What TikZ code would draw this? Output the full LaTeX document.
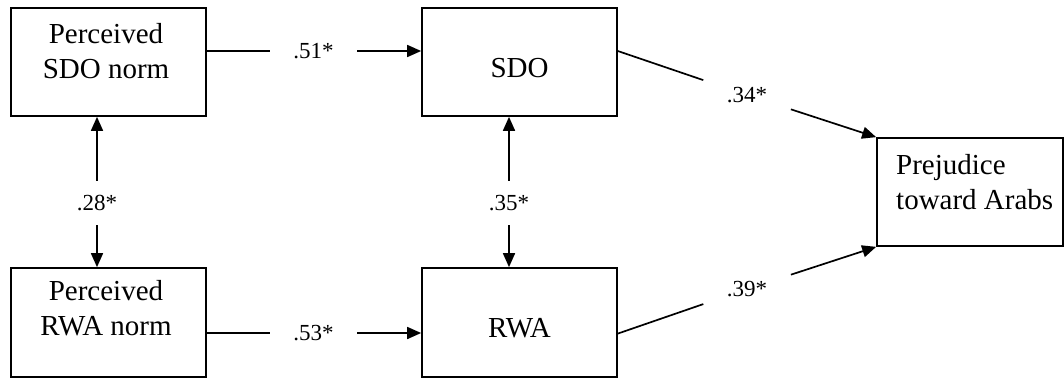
\documentclass[tikz,border=0pt]{standalone}
\usepackage{fontspec}
\setmainfont{Liberation Serif}
\usetikzlibrary{arrows.meta,calc}
\begin{document}
\begin{tikzpicture}[x=1pt,y=-1pt,
  box/.style={draw, line width=1.7pt, inner sep=0pt, minimum width=195pt, minimum height=108pt},
  boxtext/.style={font=\fontsize{29}{35}\selectfont, align=center, inner sep=0pt},
  coef/.style={font=\fontsize{23}{27}\selectfont, inner sep=0pt},
  link/.style={line width=1.7pt},
  arr/.style={link, -{Triangle[length=14pt,width=12pt]}}
]
\useasboundingbox (0,0) rectangle (1064,378);

% boxes
\node[box] (n1) at (108.5,62) {};
\node[box] (sdo) at (519.5,62) {};
\node[box, minimum height=109pt] (n2) at (108.5,322.5) {};
\node[box, minimum height=109pt] (rwa) at (519.5,322.5) {};
\node[box, minimum width=186pt] (prej) at (970,192) {};

% box texts
\node[boxtext] (n1t) at (106,51) {Perceived\\SDO norm};
\node[boxtext] (sdot) at (519.5,68) {SDO};
\node[boxtext] (n2t) at (106,308) {Perceived\\RWA norm};
\node[boxtext] (rwat) at (519.5,328) {RWA};
\node[boxtext, align=left, anchor=west] (prejt) at (896,182) {Prejudice\\toward Arabs};

% coefficients
\node[coef, minimum width=87pt] (c51) at (313.5,51) {.51*};
\node[coef, minimum width=87pt] (c53) at (313.5,333) {.53*};
\node[coef, minimum height=44pt] (c28) at (97,203) {.28*};
\node[coef, minimum height=44pt] (c35) at (509,203) {.35*};
\node[coef, circle, minimum size=92pt] (c34) at (747,95) {.34*};
\node[coef, circle, minimum size=92pt] (c39) at (747,289) {.39*};

% connectors
\draw[link] (n1.east |- c51) -- (c51.west);
\draw[arr] (c51.east) -- (sdo.west |- c51);
\draw[link] (n2.east |- c53) -- (c53.west);
\draw[arr] (c53.east) -- (rwa.west |- c53);
\draw[arr] (c28.north) -- (c28.north |- n1.south);
\draw[arr] (c28.south) -- (c28.south |- n2.north);
\draw[arr] (c35.north) -- (c35.north |- sdo.south);
\draw[arr] (c35.south) -- (c35.south |- rwa.north);
\coordinate (sdoout) at ($(sdo.north east)!0.4!(sdo.south east)$);
\coordinate (rwaout) at ($(rwa.north east)!0.6!(rwa.south east)$);
\draw[link] (sdoout) -- (c34);
\draw[arr] (c34) -- (prej.north west);
\draw[link] (rwaout) -- (c39);
\draw[arr] (c39) -- (prej.south west);
\end{tikzpicture}
\end{document}
